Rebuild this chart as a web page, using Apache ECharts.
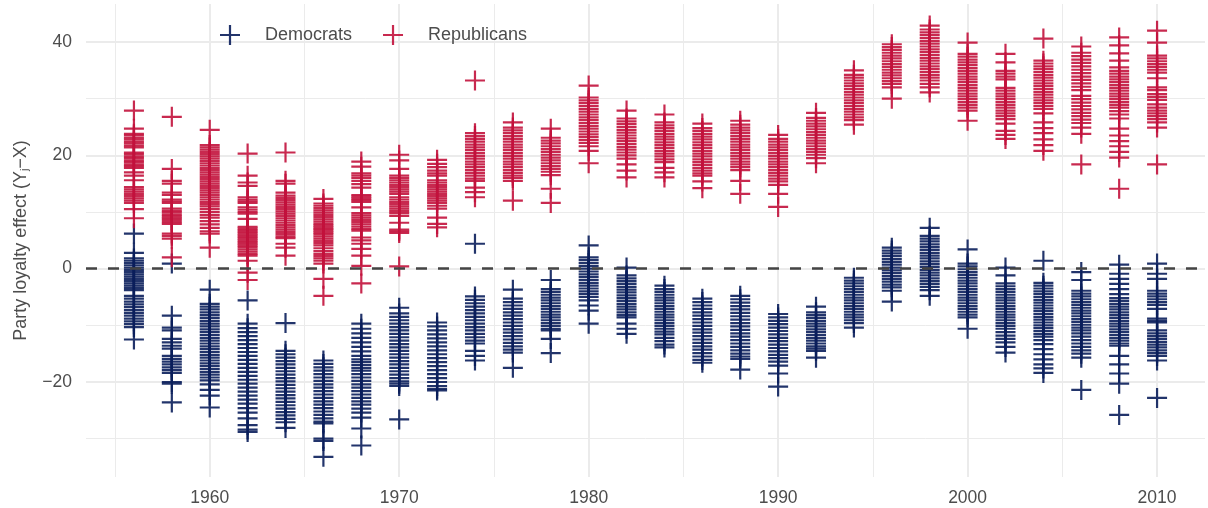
<!DOCTYPE html>
<html>
<head>
<meta charset="utf-8">
<title>Party loyalty effect</title>
<script src="https://cdn.jsdelivr.net/npm/echarts@6/dist/echarts.min.js"></script>
<style>
  html, body { margin: 0; padding: 0; background: #ffffff; }
  #chart { width: 1208px; height: 508px; }
</style>
</head>
<body>
<div id="chart"></div>
<script>
// Election years (one column of members per year)
const years = [1956, 1958, 1960, 1962, 1964, 1966, 1968, 1970, 1972, 1974, 1976, 1978, 1980, 1982,
               1984, 1986, 1988, 1990, 1992, 1994, 1996, 1998, 2000, 2002, 2004, 2006, 2008, 2010];

// Party loyalty effect of Democratic members, one list per election year
const democrats = [
  [6.2, 2.8, 1.8, 1.4, 1.0, 0.6, 0.2, -0.2, -0.6, -1.0, -1.4, -1.8, -2.2, -2.6, -3.0, -3.4, -3.8, -4.8, -5.3, -5.8, -6.3, -6.8, -7.3, -7.8, -8.3, -8.8, -9.3, -9.8, -10.3, -12.5],
  [0.9, -8.3, -10.4, -10.9, -12.4, -13.0, -13.6, -14.1, -15.4, -15.9, -16.4, -16.9, -17.4, -17.9, -18.4, -20.0, -20.3, -23.6],
  [-3.7, -6.2, -6.7, -7.2, -7.7, -8.2, -8.7, -9.2, -9.7, -10.2, -10.7, -11.2, -11.7, -12.2, -12.7, -13.2, -13.7, -14.2, -14.7, -15.2, -15.7, -16.2, -16.7, -17.2, -17.7, -18.2, -18.7, -19.2, -19.7, -20.4, -21.4, -22.4, -24.5],
  [-5.6, -9.7, -10.5, -11.2, -11.9, -12.6, -13.3, -14.0, -14.7, -15.4, -16.1, -16.8, -17.5, -18.2, -18.9, -19.6, -20.3, -21.0, -21.7, -22.4, -23.1, -23.8, -24.6, -25.4, -26.4, -27.6, -28.4, -28.8],
  [-9.6, -14.5, -15.1, -15.7, -16.3, -16.9, -17.5, -18.1, -18.7, -19.3, -19.9, -20.5, -21.1, -21.7, -22.3, -22.9, -23.5, -24.1, -24.7, -25.3, -25.9, -26.5, -27.1, -28.1],
  [-16.2, -16.8, -17.4, -18.0, -18.6, -19.2, -19.8, -20.4, -21.0, -21.6, -22.2, -22.8, -23.4, -24.0, -24.6, -25.2, -25.8, -26.4, -27.0, -27.3, -30.0, -30.4, -33.2],
  [-9.7, -10.6, -11.4, -12.2, -13.0, -13.8, -14.6, -15.4, -16.0, -16.5, -17.0, -17.5, -18.0, -18.6, -19.2, -19.8, -20.4, -21.0, -21.6, -22.2, -22.8, -23.4, -24.0, -24.7, -25.4, -26.3, -28.2, -31.2],
  [-6.9, -7.9, -8.5, -9.1, -9.7, -10.3, -10.9, -11.5, -12.1, -12.7, -13.3, -13.9, -14.5, -15.1, -15.7, -16.3, -16.9, -17.5, -18.1, -18.7, -19.3, -19.9, -20.3, -20.7, -26.6],
  [-9.5, -10.2, -10.9, -11.6, -12.3, -13.0, -13.7, -14.4, -15.1, -15.8, -16.5, -17.2, -17.9, -18.6, -19.3, -20.0, -20.7, -21.2, -21.5],
  [4.4, -4.9, -5.5, -6.1, -6.7, -7.3, -7.9, -8.5, -9.1, -9.7, -10.3, -10.9, -11.5, -12.1, -12.7, -13.2, -14.5, -15.4, -16.2],
  [-3.7, -5.3, -5.9, -6.5, -7.1, -7.7, -8.3, -8.9, -9.5, -10.1, -10.7, -11.3, -11.9, -12.5, -13.1, -13.7, -14.3, -14.8, -17.5],
  [-2.0, -3.6, -4.1, -4.6, -5.1, -5.6, -6.1, -6.6, -7.1, -7.6, -8.1, -8.6, -9.1, -9.6, -10.1, -10.6, -10.9, -12.4, -14.9],
  [4.1, 2.0, 1.5, 1.0, 0.5, 0.0, -0.5, -1.0, -1.5, -2.0, -2.5, -3.0, -3.5, -4.0, -4.5, -5.0, -5.6, -6.5, -7.4, -9.7],
  [0.2, -1.2, -1.7, -2.2, -2.7, -3.2, -3.7, -4.2, -4.7, -5.2, -5.7, -6.2, -6.7, -7.2, -7.7, -8.2, -8.6, -9.7, -10.6, -11.5],
  [-3.0, -3.6, -4.1, -4.6, -5.1, -5.6, -6.1, -6.6, -7.1, -7.6, -8.1, -8.6, -9.1, -9.6, -10.1, -10.6, -11.1, -11.6, -12.2, -12.8, -13.4, -13.9],
  [-5.3, -5.9, -6.5, -7.1, -7.7, -8.3, -8.9, -9.5, -10.1, -10.7, -11.3, -11.9, -12.5, -13.1, -13.7, -14.3, -14.9, -15.5, -16.1, -16.6],
  [-4.8, -5.4, -6.0, -6.6, -7.2, -7.8, -8.4, -9.0, -9.6, -10.2, -10.8, -11.4, -12.0, -12.6, -13.2, -13.8, -14.4, -15.0, -15.5, -15.9, -17.8],
  [-8.0, -8.6, -9.2, -9.8, -10.4, -11.0, -11.6, -12.2, -12.8, -13.4, -14.0, -14.6, -15.2, -15.8, -16.4, -17.1, -18.5, -20.8],
  [-6.7, -7.7, -8.2, -8.7, -9.2, -9.7, -10.2, -10.7, -11.2, -11.7, -12.2, -12.7, -13.2, -13.7, -14.1, -14.5, -15.7],
  [-1.6, -2.1, -2.6, -3.1, -3.6, -4.1, -4.6, -5.1, -5.6, -6.1, -6.6, -7.1, -7.6, -8.1, -8.6, -9.1, -9.6, -10.4],
  [3.7, 3.2, 2.7, 2.2, 1.7, 1.2, 0.7, 0.2, -0.3, -0.8, -1.3, -1.8, -2.3, -2.8, -3.3, -3.9, -5.8],
  [7.2, 5.8, 5.3, 4.8, 4.3, 3.8, 3.3, 2.8, 2.3, 1.8, 1.3, 0.8, 0.3, -0.2, -0.7, -1.2, -1.7, -2.2, -2.7, -3.2, -3.8, -4.8],
  [3.4, 0.9, 0.4, -0.1, -0.6, -1.1, -1.6, -2.1, -2.6, -3.1, -3.6, -4.1, -4.6, -5.1, -5.6, -6.1, -6.6, -7.1, -7.6, -8.1, -8.6, -10.6],
  [0.2, -1.2, -2.6, -3.1, -3.6, -4.1, -4.6, -5.1, -5.6, -6.1, -6.6, -7.1, -7.6, -8.1, -8.6, -9.1, -9.6, -10.1, -10.6, -11.2, -11.8, -12.4, -13.0, -13.8, -14.8],
  [1.4, -2.5, -3.0, -3.5, -4.0, -4.5, -5.0, -5.5, -6.0, -6.5, -7.0, -7.5, -8.0, -8.5, -9.0, -9.5, -10.0, -10.5, -11.0, -11.5, -12.0, -12.6, -13.3, -14.2, -15.1, -16.0, -16.9, -17.6, -18.4],
  [-0.6, -2.0, -3.9, -4.4, -4.9, -5.4, -5.9, -6.4, -6.9, -7.4, -7.9, -8.4, -8.9, -9.4, -9.9, -10.4, -10.9, -11.4, -12.0, -12.6, -13.2, -13.8, -14.4, -15.0, -15.7, -21.4],
  [0.7, -0.9, -1.8, -2.7, -3.6, -4.5, -5.2, -5.7, -6.2, -6.7, -7.2, -7.7, -8.2, -8.7, -9.2, -9.7, -10.2, -10.7, -11.2, -11.7, -12.2, -12.7, -13.2, -13.6, -15.4, -16.9, -18.5, -20.3, -25.8],
  [0.9, -0.9, -1.8, -3.9, -4.4, -4.9, -5.4, -5.9, -6.4, -7.1, -8.8, -9.2, -9.5, -10.9, -11.4, -11.9, -12.4, -12.9, -13.4, -13.9, -14.4, -14.9, -15.4, -16.2, -22.8]
];

// Party loyalty effect of Republican members, one list per election year
const republicans = [
  [27.9, 24.7, 23.8, 23.5, 23.1, 22.8, 22.4, 22.1, 21.7, 21.4, 20.5, 20.2, 19.8, 19.5, 19.1, 18.8, 18.4, 18.1, 17.8, 17.0, 16.4, 15.6, 14.4, 14.0, 13.6, 13.2, 12.8, 12.4, 12.0, 11.6, 10.5, 8.9],
  [26.8, 17.6, 15.5, 15.0, 13.4, 13.0, 12.2, 11.9, 11.6, 10.6, 10.2, 9.9, 9.5, 9.2, 8.9, 8.6, 8.2, 7.9, 6.2, 5.8, 5.3, 2.0],
  [24.5, 21.8, 21.4, 21.0, 20.6, 20.2, 19.8, 19.4, 19.0, 18.6, 18.2, 17.8, 17.4, 17.0, 16.6, 16.2, 15.8, 15.4, 15.0, 14.6, 14.2, 13.8, 13.4, 13.0, 12.6, 12.2, 11.8, 11.4, 11.0, 10.5, 10.0, 9.5, 9.0, 8.4, 7.8, 7.2, 6.6, 6.2, 3.7],
  [20.3, 16.4, 15.2, 14.6, 12.6, 12.2, 11.9, 11.6, 10.8, 10.4, 10.0, 9.7, 8.8, 7.4, 7.1, 6.8, 6.5, 6.2, 5.9, 5.6, 5.3, 5.0, 4.7, 4.4, 4.1, 3.8, 3.4, 3.0, 2.6, 2.3, 1.4, -0.7, -2.0],
  [20.5, 15.5, 15.0, 13.4, 12.9, 12.5, 12.1, 11.7, 11.3, 10.9, 10.5, 10.1, 9.7, 9.3, 8.9, 8.5, 8.1, 7.7, 7.3, 6.9, 6.5, 6.1, 5.7, 5.4, 4.4, 3.7, 2.3],
  [12.3, 11.5, 11.1, 10.7, 10.3, 9.9, 9.5, 9.1, 8.7, 8.3, 7.9, 7.6, 7.3, 7.0, 6.7, 6.4, 6.1, 5.7, 5.3, 4.9, 4.5, 4.1, 3.6, 3.1, 2.6, 2.2, 1.8, 1.4, 0.9, -1.8, -4.8],
  [18.9, 18.0, 16.8, 16.4, 16.0, 15.5, 14.9, 14.3, 13.0, 12.7, 12.4, 12.1, 11.8, 10.8, 9.8, 9.4, 9.0, 8.6, 8.2, 7.8, 7.4, 7.0, 6.7, 5.5, 5.0, 4.4, 3.5, 2.3, 0.5, -2.6],
  [20.1, 19.1, 17.6, 16.4, 16.0, 15.6, 15.2, 14.8, 14.4, 14.0, 13.6, 13.2, 12.6, 12.2, 11.8, 11.4, 11.0, 10.6, 10.2, 9.8, 9.3, 8.1, 6.9, 6.6, 6.3, 0.4],
  [19.2, 18.5, 17.9, 17.3, 16.8, 16.4, 15.6, 15.2, 14.8, 14.4, 14.0, 13.6, 13.2, 12.8, 12.4, 12.0, 11.6, 11.1, 10.6, 9.0, 7.9, 7.3],
  [33.2, 23.9, 23.4, 22.9, 22.4, 21.9, 21.4, 20.9, 20.4, 19.9, 19.4, 18.9, 18.4, 17.9, 17.4, 16.9, 16.4, 15.9, 15.5, 14.3, 13.5, 12.6],
  [25.8, 24.9, 24.4, 23.9, 23.4, 22.9, 22.4, 21.9, 21.4, 20.9, 20.4, 19.9, 19.4, 18.9, 18.4, 17.9, 17.4, 16.9, 16.4, 16.0, 15.5, 12.0],
  [24.7, 23.1, 22.6, 22.1, 21.6, 21.1, 20.6, 20.1, 19.6, 19.1, 18.6, 18.1, 17.6, 17.1, 16.5, 14.1, 11.6],
  [32.3, 30.2, 29.7, 29.2, 28.7, 28.2, 27.7, 27.2, 26.7, 26.2, 25.7, 25.2, 24.7, 24.2, 23.7, 23.2, 22.7, 22.2, 21.6, 20.8, 18.6],
  [27.9, 26.5, 26.0, 25.5, 25.0, 24.5, 24.0, 23.5, 23.0, 22.5, 22.0, 21.5, 21.0, 20.5, 20.0, 19.4, 18.4, 17.3, 16.1],
  [27.2, 25.8, 25.3, 24.8, 24.3, 23.8, 23.3, 22.8, 22.3, 21.8, 21.3, 20.8, 20.3, 19.8, 19.3, 18.8, 17.8, 17.0, 16.1],
  [25.6, 24.8, 24.3, 23.8, 23.3, 22.8, 22.3, 21.8, 21.3, 20.8, 20.3, 19.8, 19.3, 18.8, 18.3, 17.8, 17.3, 16.8, 16.4, 15.4, 14.2],
  [26.1, 25.4, 24.9, 24.4, 23.9, 23.4, 22.9, 22.4, 21.9, 21.4, 20.9, 20.4, 19.9, 19.4, 18.9, 18.4, 17.9, 17.4, 15.5, 13.2],
  [23.6, 22.9, 22.4, 21.9, 21.4, 20.9, 20.4, 19.9, 19.4, 18.9, 18.4, 17.9, 17.4, 16.9, 16.4, 15.9, 15.4, 14.8, 13.2, 10.9],
  [27.5, 26.6, 26.1, 25.6, 25.1, 24.6, 24.1, 23.6, 23.1, 22.6, 22.1, 21.6, 21.1, 20.6, 20.1, 19.5, 18.6],
  [35.0, 34.2, 33.7, 33.2, 32.7, 32.2, 31.7, 31.2, 30.7, 30.2, 29.7, 29.2, 28.7, 28.2, 27.7, 27.2, 26.7, 26.2, 25.4],
  [39.6, 39.1, 38.6, 38.1, 37.6, 37.1, 36.6, 36.1, 35.6, 35.1, 34.6, 34.1, 33.6, 33.1, 32.6, 32.0, 30.0],
  [42.9, 42.2, 41.7, 41.2, 40.7, 40.2, 39.7, 39.2, 38.7, 38.2, 37.7, 37.2, 36.7, 36.2, 35.7, 35.2, 34.7, 34.2, 33.7, 33.2, 32.6, 32.0, 31.1],
  [39.9, 37.9, 37.4, 36.9, 36.4, 35.9, 35.4, 34.9, 34.4, 33.9, 33.4, 32.9, 32.4, 31.9, 31.4, 30.9, 30.4, 29.9, 29.4, 28.9, 28.4, 27.9, 26.1],
  [37.9, 36.4, 34.9, 34.4, 33.9, 33.4, 31.9, 31.4, 30.9, 30.4, 29.9, 29.4, 28.9, 28.4, 27.9, 27.4, 26.9, 26.4, 25.6, 24.3, 23.6, 22.9],
  [40.6, 36.7, 36.2, 35.7, 35.2, 34.7, 34.2, 33.7, 33.2, 32.7, 32.2, 31.7, 31.2, 30.7, 30.2, 29.7, 29.2, 28.7, 28.2, 27.4, 25.8, 24.8, 23.9, 22.8, 21.8, 20.8],
  [39.2, 38.1, 37.5, 36.9, 36.3, 35.7, 35.1, 34.5, 33.9, 33.3, 32.7, 32.1, 31.5, 30.5, 29.9, 29.3, 28.7, 28.1, 27.5, 26.9, 26.3, 25.7, 24.9, 23.8, 18.4],
  [40.8, 39.4, 38.0, 36.7, 35.5, 34.9, 34.4, 33.9, 33.4, 32.9, 32.4, 31.9, 31.4, 30.9, 30.4, 29.9, 29.4, 28.9, 28.4, 27.8, 27.2, 26.5, 24.7, 23.5, 22.5, 21.6, 20.6, 19.6, 14.1],
  [42.0, 39.9, 37.6, 37.1, 36.6, 36.1, 35.6, 35.1, 34.6, 33.6, 32.0, 31.5, 30.8, 30.3, 29.8, 29.0, 28.4, 27.9, 27.4, 26.9, 26.4, 25.8, 24.9, 18.4]
];

// Axis ticks
const xMajorTicks = [1960, 1970, 1980, 1990, 2000, 2010];
const xMinorTicks = [1955, 1965, 1975, 1985, 1995, 2005];
const yMajorTicks = [-20, 0, 20, 40];
const yMinorTicks = [-30, -10, 10, 30];

const DEM_COLOR = '#0a1e5b';
const REP_COLOR = '#c2123c';
const TEXT_COLOR = '#4d4d4d';
const GRID_COLOR = '#ebebeb';

// plus-shaped marker
const PLUS = 'path://M8.9,0h2.2v8.9h8.9v2.2h-8.9v8.9h-2.2v-8.9h-8.9v-2.2h8.9z';

function toPoints(lists) {
  const pts = [];
  lists.forEach((vals, i) => vals.forEach(v => pts.push([years[i], v])));
  return pts;
}

const X_MIN = 1953.47, X_MAX = 2012.53;
const Y_MIN = -36.76, Y_MAX = 46.7;

const chart = echarts.init(document.getElementById('chart'), null, { renderer: 'canvas' });

const hidden = { show: false };
const FONT = 'Liberation Sans, Arial, sans-serif';

chart.setOption({
  animation: false,
  backgroundColor: '#ffffff',
  textStyle: { fontFamily: FONT },
  grid: { left: 86, right: 3, top: 4, bottom: 31, containLabel: false, outerBoundsMode: 'none' },
  legend: {
    left: 215,
    top: 20,
    itemWidth: 60,
    itemHeight: 20,
    itemGap: 31,
    symbolKeepAspect: true,
    textStyle: { color: TEXT_COLOR, fontSize: 18, fontFamily: FONT },
    data: ['Democrats', 'Republicans']
  },
  xAxis: [
    {
      type: 'value', min: X_MIN, max: X_MAX,
      axisLine: hidden,
      axisTick: { show: false, customValues: xMajorTicks },
      axisLabel: { customValues: xMajorTicks, color: TEXT_COLOR, fontSize: 17.5, margin: 12, formatter: v => String(v) },
      splitLine: { show: true, lineStyle: { color: GRID_COLOR, width: 2 } }
    },
    {
      type: 'value', min: X_MIN, max: X_MAX, position: 'bottom',
      axisLine: hidden,
      axisTick: { show: false, customValues: xMinorTicks },
      axisLabel: hidden,
      splitLine: { show: true, lineStyle: { color: GRID_COLOR, width: 1 } }
    }
  ],
  yAxis: [
    {
      type: 'value', min: Y_MIN, max: Y_MAX,
      axisLine: hidden,
      axisTick: { show: false, customValues: yMajorTicks },
      axisLabel: {
        customValues: yMajorTicks, color: TEXT_COLOR, fontSize: 17.5, margin: 14,
        formatter: v => (v < 0 ? '\u2212' + Math.abs(v) : String(v))
      },
      splitLine: { show: true, lineStyle: { color: GRID_COLOR, width: 2 } },
      name: 'Party loyalty effect (Y{sub|j}\u2212X)',
      nameLocation: 'middle',
      nameRotate: 90,
      nameGap: 56,
      nameTextStyle: {
        color: TEXT_COLOR, fontSize: 18,
        rich: { sub: { fontSize: 11, color: TEXT_COLOR, verticalAlign: 'bottom', padding: [6, 0, 0, 0] } }
      }
    },
    {
      type: 'value', min: Y_MIN, max: Y_MAX, position: 'left',
      axisLine: hidden,
      axisTick: { show: false, customValues: yMinorTicks },
      axisLabel: hidden,
      splitLine: { show: true, lineStyle: { color: GRID_COLOR, width: 1 } }
    }
  ],
  series: [
    {
      name: 'Democrats',
      type: 'scatter',
      xAxisIndex: 0, yAxisIndex: 0,
      symbol: PLUS,
      symbolSize: 20,
      itemStyle: { color: DEM_COLOR, opacity: 0.9 },
      data: toPoints(democrats),
      z: 3
    },
    {
      name: 'Republicans',
      type: 'scatter',
      xAxisIndex: 0, yAxisIndex: 0,
      symbol: PLUS,
      symbolSize: 20,
      itemStyle: { color: REP_COLOR, opacity: 0.9 },
      data: toPoints(republicans),
      z: 3,
      markLine: {
        silent: true,
        symbol: ['none', 'none'],
        label: { show: false },
        lineStyle: { color: '#444444', width: 2.5, type: [11, 11] },
        data: [{ yAxis: 0 }],
        z: 10
      }
    }
  ]
});
</script>
</body>
</html>
